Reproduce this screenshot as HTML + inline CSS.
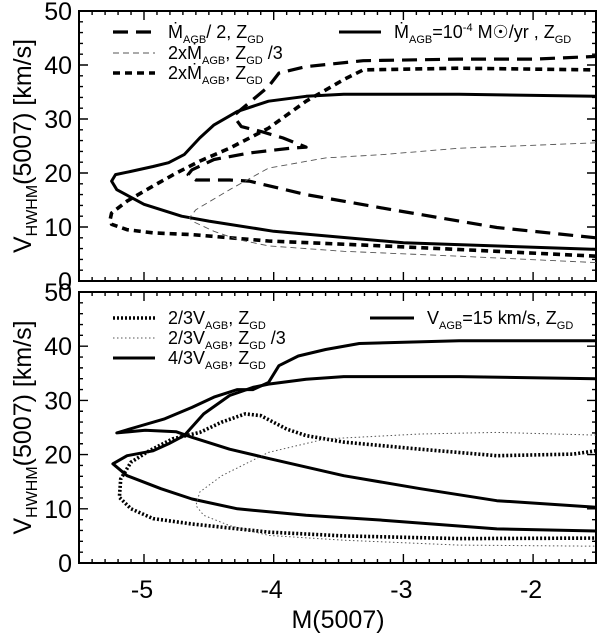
<!DOCTYPE html>
<html><head><meta charset="utf-8"><style>
html,body{margin:0;padding:0;background:#fff;}
svg{display:block;font-family:"Liberation Sans",Arial,sans-serif;}
</style></head><body>
<svg id="chart" width="600" height="634" viewBox="0 0 600 634"></svg>
<script>
// ---- data (M(5007), V_HWHM) ----
const xTicks = [-5, -4, -3, -2];
const xTickLabels = ["-5", "-4", "-3", "-2"];
const yTicks = [0, 10, 20, 30, 40, 50];
const yTickLabels = ["0", "10", "20", "30", "40", "50"];

const topSolidM = [-1.515,-3.0,-4.0,-4.5,-4.71,-5.0,-5.21,-5.25,-5.22,-5.10,-4.93,-4.81,-4.69,-4.57,-4.46,-4.28,-4.04,-3.75,-3.46,-2.57,-1.515];
const topSolidV = [5.85,7.1,9.2,11.1,12.0,14.2,16.9,18.5,19.7,20.3,21.2,21.9,23.4,26.5,28.9,31.4,33.3,34.2,34.6,34.6,34.2];
const halfMdotM = [-1.515,-2.28,-3.16,-3.75,-4.19,-4.34,-4.60,-4.66,-4.63,-4.46,-4.19,-3.87,-3.75,-3.93,-4.10,-4.25,-4.29,-4.30,-4.19,-4.04,-3.96,-3.75,-3.31,-2.57,-1.99,-1.515];
const halfMdotV = [8.0,9.9,13.5,16.0,18.5,18.7,18.7,19.7,20.6,22.5,23.7,24.6,24.8,26.5,27.7,28.6,29.9,30.8,33.0,36.0,38.5,39.7,40.8,41.1,41.1,41.6];
const dblMdotM = [-1.515,-2.28,-3.16,-4.04,-4.63,-4.93,-5.13,-5.25,-5.26,-5.25,-5.13,-4.93,-4.75,-4.57,-4.34,-4.04,-3.75,-3.46,-3.31,-2.57,-1.515];
const dblMdotV = [4.6,5.5,6.5,7.4,8.6,8.9,9.5,10.5,11.5,12.6,14.8,17.6,20.0,22.2,24.6,28.3,33.3,37.3,39.1,39.4,39.1];
const dblMdotZ3M = [-1.515,-2.57,-3.46,-4.04,-4.28,-4.46,-4.63,-4.65,-4.60,-4.34,-4.04,-3.60,-3.16,-2.57,-1.515];
const dblMdotZ3V = [3.4,4.6,5.5,6.5,7.7,9.2,11.1,11.7,13.2,16.9,20.9,22.8,23.4,24.6,25.6];

const botSolidM = [-1.515,-2.28,-3.16,-3.75,-4.28,-4.63,-4.87,-5.13,-5.24,-5.13,-4.93,-4.81,-4.69,-4.54,-4.34,-4.16,-4.04,-3.75,-3.46,-2.57,-1.515];
const botSolidV = [5.9,6.3,7.9,8.8,10.0,11.8,13.7,16.1,18.3,19.8,20.7,22.0,23.5,27.5,30.9,32.4,33.0,33.9,34.4,34.4,34.0];
const fourThirdM = [-1.515,-2.28,-2.87,-3.46,-4.04,-4.34,-4.63,-4.75,-4.99,-5.21,-5.07,-4.84,-4.63,-4.46,-4.28,-4.16,-4.04,-3.96,-3.81,-3.60,-3.34,-2.57,-1.515];
const fourThirdV = [10.3,11.5,13.7,16.1,19.3,21.0,23.2,24.2,24.5,24.0,25.0,26.6,28.7,30.6,32.0,32.0,33.3,36.4,38.2,39.4,40.5,41.0,41.0];
const twoThirdM = [-1.515,-1.69,-2.28,-2.87,-3.46,-3.75,-3.90,-4.10,-4.22,-4.40,-4.57,-4.78,-4.96,-5.10,-5.18,-5.19,-5.10,-4.93,-4.63,-4.04,-3.46,-2.57,-1.515];
const twoThirdV = [20.7,20.1,19.8,21.0,22.3,23.5,24.7,27.2,27.5,26.0,24.1,22.9,20.7,18.6,15.5,12.1,10.0,8.2,7.2,5.7,5.0,4.5,4.6];
const twoThirdZ3M = [-1.515,-2.28,-2.87,-3.60,-4.04,-4.40,-4.57,-4.60,-4.54,-4.34,-4.04,-3.46,-2.57,-1.515];
const twoThirdZ3V = [23.6,24.1,23.8,22.9,20.4,16.1,13.1,10.6,8.8,6.9,5.1,4.2,3.3,3.1];

// ---- layout ----
const NS = "http://www.w3.org/2000/svg";
const svg = document.getElementById("chart");
const L = 79, R = 596;
const xScale = m => 144 + (m + 5) * 129.7;
function mk(tag, attrs, parent) {
  const e = document.createElementNS(NS, tag);
  for (const k in attrs) e.setAttribute(k, attrs[k]);
  (parent || svg).appendChild(e);
  return e;
}
function panel(name, pTop, pBottom) {
  const g = mk("g", {});
  
  
  const ys = v => pBottom - v * (pBottom - pTop) / 50;
  const f = mk("rect", {x: L, y: pTop, width: R - L, height: pBottom - pTop, fill: "none", stroke: "#000", "stroke-width": 2}, g);
  
  
  let d = "";
  for (let k = -55; k <= -15; k++) {
    const m = k / 10;
    const x = xScale(m);
    if (x < L || x > R) continue;
    const major = k % 10 === 0;
    const len = major ? 9 : 4;
    d += `M${x},${pBottom}v${-len}M${x},${pTop}v${len}`;
  }
  for (let v = 0; v <= 50; v += 2) {
    const y = ys(v);
    const len = v % 10 === 0 ? 9 : 4;
    d += `M${L},${y}h${len}M${R},${y}h${-len}`;
  }
  const t = mk("path", {d, stroke: "#000", "stroke-width": 1.4, fill: "none"}, g);
  
  
  yTicks.forEach((v, i) => {
    const tx = mk("text", {x: 72, y: ys(v) + 9, "text-anchor": "end", "font-size": 25}, g);
    tx.textContent = yTickLabels[i];
    
    
  });
  const yt = mk("text", {transform: `translate(31,${(pTop + pBottom) / 2}) rotate(-90)`, "text-anchor": "middle", "font-size": 25}, g);
  yt.innerHTML = 'V<tspan font-size="16" dy="6">HWHM</tspan><tspan dy="-6">(5007) [km/s]</tspan>';
  
  
  return {g, ys};
}
function series(p, M, V, name, style) {
  const pts = M.map((m, i) => xScale(m).toFixed(1) + "," + p.ys(V[i]).toFixed(1)).join(" ");
  const e = mk("polyline", Object.assign({points: pts, fill: "none", "stroke-linejoin": "round"}, style), p.g);
  
  
}
function legend(p, x1, x2, y, html, name, style) {
  const l = mk("line", Object.assign({x1, x2, y1: y, y2: y}, style), p.g);
  
  
  const t = mk("text", {x: x2 + 13, y: y + 6, "font-size": 18}, p.g);
  t.innerHTML = html;
  
  
}
const S_SOLID = {stroke: "#000", "stroke-width": 3};
const S_LDASH = {stroke: "#000", "stroke-width": 3.2, "stroke-dasharray": "15 8"};
const S_SDASH = {stroke: "#000", "stroke-width": 3.6, "stroke-dasharray": "7 5"};
const S_TDASH = {stroke: "#555", "stroke-width": 0.9, "stroke-dasharray": "6 4"};
const S_DOT = {stroke: "#000", "stroke-width": 3.6, "stroke-dasharray": "2 2"};
const S_TDOT = {stroke: "#555", "stroke-width": 1, "stroke-dasharray": "1.5 2.5"};
const sub = s => `<tspan font-size="11" dy="5">${s}</tspan><tspan dy="-5">`;

const topPanel = panel("top-panel", 11, 281);
series(topPanel, topSolidM, topSolidV, "series-mdot-agb-zgd", S_SOLID);
series(topPanel, halfMdotM, halfMdotV, "series-half-mdot-zgd", S_LDASH);
series(topPanel, dblMdotM, dblMdotV, "series-2x-mdot-zgd", S_SDASH);
series(topPanel, dblMdotZ3M, dblMdotZ3V, "series-2x-mdot-zgd-3", S_TDASH);
legend(topPanel, 113, 155, 32, `Ṁ${sub("AGB")}/ 2, Z</tspan>${sub("GD")}</tspan>`, "legend-half-mdot", S_LDASH);
legend(topPanel, 113, 155, 53, `2xṀ${sub("AGB")}, Z</tspan>${sub("GD")} /3</tspan>`, "legend-2x-mdot-z3", S_TDASH);
legend(topPanel, 113, 155, 73, `2xṀ${sub("AGB")}, Z</tspan>${sub("GD")}</tspan>`, "legend-2x-mdot", S_SDASH);
legend(topPanel, 339, 381, 32, `Ṁ${sub("AGB")}=10<tspan font-size="11" dy="-7">-4</tspan><tspan dy="7"> M☉/yr , Z</tspan>${sub("GD")}</tspan>`, "legend-mdot-agb", S_SOLID);

const botPanel = panel("bottom-panel", 292, 563);
series(botPanel, botSolidM, botSolidV, "series-vagb-15", S_SOLID);
series(botPanel, fourThirdM, fourThirdV, "series-4-3-vagb", S_SOLID);
series(botPanel, twoThirdM, twoThirdV, "series-2-3-vagb", S_DOT);
series(botPanel, twoThirdZ3M, twoThirdZ3V, "series-2-3-vagb-z3", S_TDOT);
legend(botPanel, 113, 155, 318, `2/3V${sub("AGB")}, Z</tspan>${sub("GD")}</tspan>`, "legend-2-3-vagb", S_DOT);
legend(botPanel, 113, 155, 338, `2/3V${sub("AGB")}, Z</tspan>${sub("GD")} /3</tspan>`, "legend-2-3-vagb-z3", S_TDOT);
legend(botPanel, 113, 155, 358, `4/3V${sub("AGB")}, Z</tspan>${sub("GD")}</tspan>`, "legend-4-3-vagb", S_SOLID);
legend(botPanel, 370, 414, 318, `V${sub("AGB")}=15 km/s, Z</tspan>${sub("GD")}</tspan>`, "legend-vagb-15", S_SOLID);

xTicks.forEach((m, i) => {
  const t = mk("text", {x: xScale(m) - 2, y: 598, "text-anchor": "middle", "font-size": 25});
  t.textContent = xTickLabels[i];
  
  
});
const xt = mk("text", {x: 338, y: 628, "text-anchor": "middle", "font-size": 25});
xt.textContent = "M(5007)";


</script>
</body></html>
